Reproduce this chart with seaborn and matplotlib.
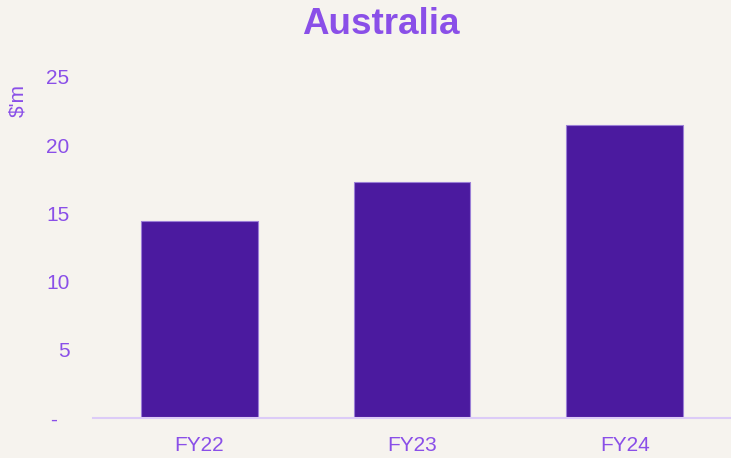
import matplotlib
matplotlib.use("Agg")
import matplotlib.pyplot as plt
import seaborn as sns
import pandas as pd

categories = ["FY22", "FY23", "FY24"]
values = [14.45, 17.3, 21.5]
yticks = [0, 5, 10, 15, 20, 25]
ytick_labels = ["-  ", "5", "10", "15", "20", "25"]

bg = "#F6F3EE"
bar_color = "#4B1A9F"
text_color = "#8A4FE8"
line_color = "#DCCBF7"

sns.set_theme(style="white")
plt.rcParams["font.family"] = ["Liberation Sans", "DejaVu Sans"]

fig = plt.figure(figsize=(7.31, 4.58), dpi=100, facecolor=bg)
ax = fig.add_axes([0.1272, 0.0873, 0.8728, 0.7446])
ax.set_facecolor(bg)

df = pd.DataFrame({"cat": categories, "val": values})
sns.barplot(data=df, x="cat", y="val", color=bar_color, saturation=1, width=0.55,
            edgecolor="#9B7FD6", linewidth=0.8, ax=ax)

ax.set_xlim(-0.5, 2.5)
ax.set_ylim(0, 25)
ax.set_yticks(yticks)
ax.set_yticklabels(ytick_labels)
for s in ["top", "right", "left"]:
    ax.spines[s].set_visible(False)
ax.spines["bottom"].set_color(line_color)
ax.spines["bottom"].set_linewidth(1.5)
ax.tick_params(axis="y", length=0, pad=17, labelsize=15, labelcolor=text_color)
ax.tick_params(axis="x", length=0, pad=13, labelsize=15, labelcolor=text_color)
ax.set_xlabel("")
ax.set_ylabel("")
ax.grid(False)

fig.text(18 / 731, 1 - 100 / 458, "$'m", rotation=90, ha="center", va="center",
         fontsize=15, color=text_color)
fig.text(381 / 731, 1 - 25 / 458, "Australia", ha="center", va="center",
         fontsize=26.5, fontweight="bold", color=text_color)

fig.savefig("out.png", dpi=100, facecolor=bg)
